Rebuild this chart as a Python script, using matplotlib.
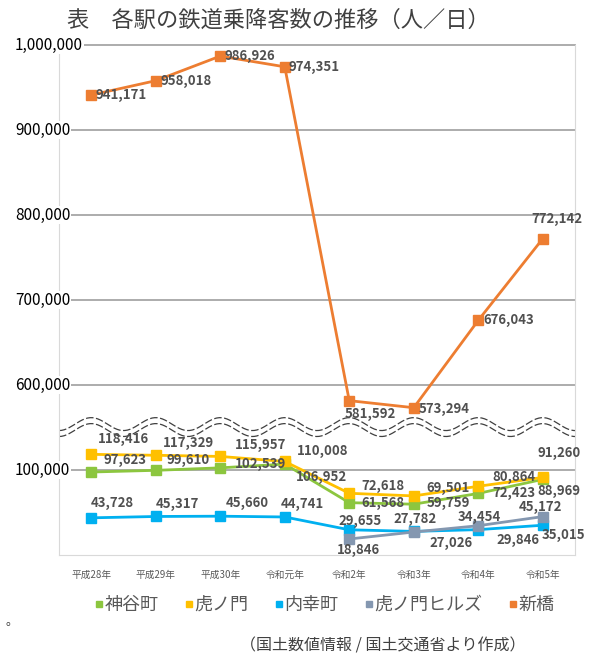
import matplotlib
matplotlib.use('Agg')
import matplotlib.pyplot as plt
import matplotlib.transforms as mtransforms
from matplotlib.lines import Line2D
import numpy as np

plt.rcParams['font.family'] = ['Noto Sans CJK JP', 'DejaVu Sans']

years = ['平成28年', '平成29年', '平成30年', '令和元年', '令和2年', '令和3年', '令和4年', '令和5年']
kamiyacho = [97623, 99610, 102539, 106952, 61568, 59759, 72423, 88969]
toranomon = [118416, 117329, 115957, 110008, 72618, 69501, 80864, 91260]
uchisaiwaicho = [43728, 45317, 45660, 44741, 29655, 27782, 29846, 35015]
hills = [None, None, None, None, 18846, 27026, 34454, 45172]
shinbashi = [941171, 958018, 986926, 974351, 581592, 573294, 676043, 772142]
tick_values = [100000, 600000, 700000, 800000, 900000, 1000000]

# values above the wavy break are drawn shifted down by this amount
shift = 400000

# label offsets from marker, in pixels (dx right, dy down)
series = [
    ('神谷町', kamiyacho, '#8cc63f', 0,
     [(34, -12), (32, -10), (40, -4), (37, 13), (34, 0), (35, -1), (36, 0), (16, 12)]),
    ('虎ノ門', toranomon, '#ffc000', 0,
     [(32, -15), (33, -12), (40, -11), (38, -10), (34, -7), (34, -8), (36, -9), (16, -24)]),
    ('内幸町', uchisaiwaicho, '#00b0f0', 0,
     [(21, -15), (22, -12), (27, -13), (18, -13), (11, -9), (1, -12), (40, 10), (21, 10)]),
    ('虎ノ門ヒルズ', hills, '#8497b0', 0,
     [None, None, None, None, (9, 11), (37, 11), (1, -9), (-2, -10)]),
    ('新橋', shinbashi, '#ed7d31', shift,
     [(30, 0), (30, 0), (30, 0), (29, 0), (21, 13), (30, 1), (30, 0), (14, -20)]),
]

fig = plt.figure(figsize=(6, 6.6), dpi=100)
ax = fig.add_axes([59 / 600, 1 - 555 / 660, (575 - 59) / 600, (555 - 45) / 660])
x = np.arange(len(years))

for name, vals, color, sub, offs in series:
    xs = [i for i, v in enumerate(vals) if v is not None]
    ys = [vals[i] - sub for i in xs]
    ax.plot(xs, ys, color=color, lw=2, marker='s', markersize=7, zorder=4)
    for i in xs:
        dx, dy = offs[i]
        ax.annotate(f'{vals[i]:,}', (i, vals[i] - sub), xytext=(dx, -dy),
                    textcoords='offset pixels', ha='center', va='center',
                    fontsize=9.5, fontweight='bold', color='#505050', zorder=5)

ax.set_xlim(-0.5, 7.5)
ax.set_ylim(0, 1000000 - shift)
ax.set_xticks(x)
ax.set_xticklabels(years, fontsize=7, color='#595959')
ax.tick_params(axis='x', length=0, pad=11)
ax.set_yticks([])
for s in ['left', 'right', 'bottom']:
    ax.spines[s].set_color('#d9d9d9')
ax.spines['top'].set_visible(False)

# gridlines run out under the left-aligned axis labels
trans = mtransforms.blended_transform_factory(ax.transAxes, ax.transData)
left = (15 - 59) / 516
for t in tick_values:
    yv = t - shift if t > 500000 else t
    ax.plot([left, 1], [yv, yv], color='#a6a6a6', lw=1.3, transform=trans,
            clip_on=False, zorder=1)
    ax.text(left, yv, f'{t:,}', transform=trans, ha='left', va='center',
            fontsize=11, color='black', zorder=3,
            bbox=dict(fc='white', ec='none', pad=0.5))

# wavy break
wx = np.linspace(-0.5, 7.5, 400)
wave = 7600 * np.cos(2 * np.pi * wx)
top = 154000 + wave
bot = 147000 + wave
ax.fill_between(wx, bot, top, color='white', zorder=2)
ax.plot(wx, top, color='#404040', lw=0.9, ls=(0, (6, 2)), zorder=2.5)
ax.plot(wx, bot, color='#404040', lw=0.9, ls=(0, (6, 2)), zorder=2.5)

fig.text(278 / 600, 1 - 20 / 660, '表　各駅の鉄道乗降客数の推移（人／日）',
         ha='center', va='center', fontsize=16, color='#404040')

handles = [Line2D([], [], marker='s', color=c, ls='none', markersize=5)
           for _, _, c, _, _ in series]
fig.legend(handles, [s[0] for s in series], loc='center', ncol=5,
           bbox_to_anchor=(325 / 600, 1 - 605 / 660), frameon=False,
           fontsize=13, handlelength=0.4, handletextpad=0.1, columnspacing=1.5,
           labelcolor='#595959')

fig.text(6 / 600, 1 - 622 / 660, '。', fontsize=9, color='#404040', va='center')
fig.text(383 / 600, 1 - 646 / 660, '（国土数値情報 / 国土交通省より作成）',
         ha='center', va='center', fontsize=11.5, color='#404040')

fig.savefig('out.png', dpi=100)
